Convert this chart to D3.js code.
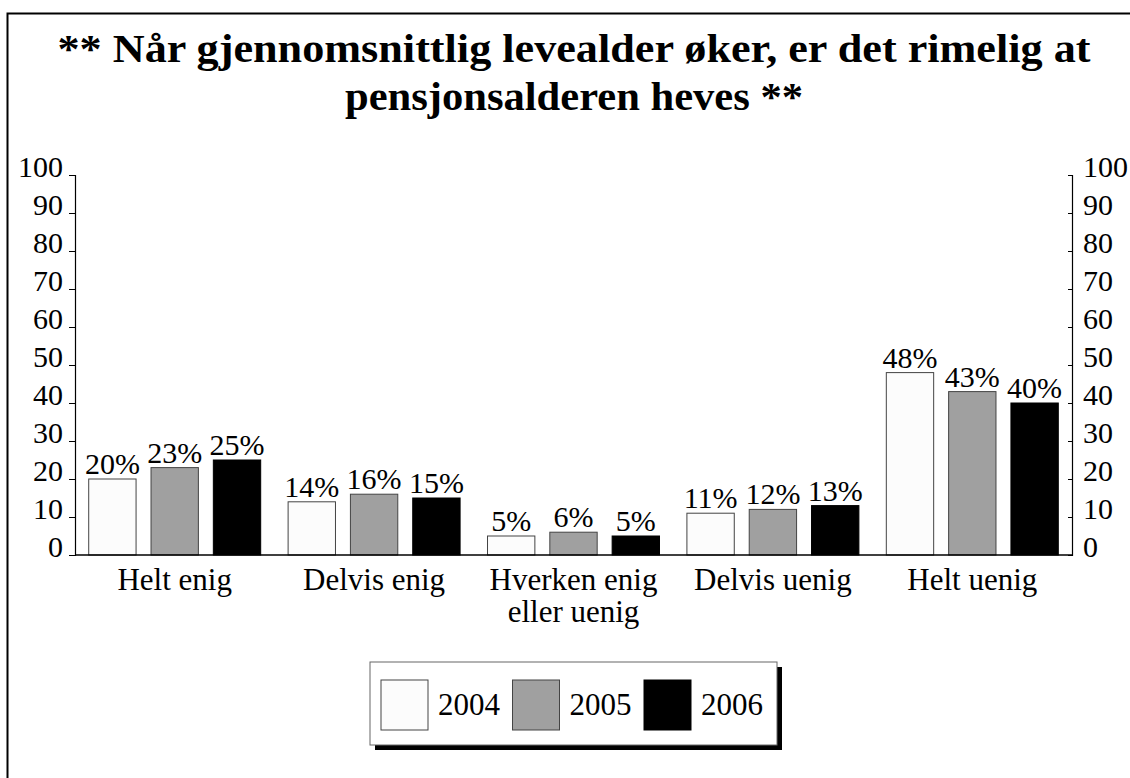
<!DOCTYPE html>
<html>
<head>
<meta charset="utf-8">
<script src="https://cdn.jsdelivr.net/npm/d3@7"></script>
<style>
  body { margin: 0; background: #fff; }
</style>
</head>
<body>
<script>
const titleLines = ["** Når gjennomsnittlig levealder øker, er det rimelig at", "pensjonsalderen heves **"];
const categories = ["Helt enig", "Delvis enig", "Hverken enig\neller uenig", "Delvis uenig", "Helt uenig"];
const years = ["2004", "2005", "2006"];
const values2004 = [20, 14, 5, 11, 48];
const values2005 = [23, 16, 6, 12, 43];
const values2006 = [25, 15, 5, 13, 40];
const yTicks = [0, 10, 20, 30, 40, 50, 60, 70, 80, 90, 100];

const W = 1130, H = 778;
const FONT = "'Liberation Serif', 'Times New Roman', serif";
const fills = {"2004": "#fcfcfc", "2005": "#a0a0a0", "2006": "#000"};
const strokes = {"2004": "#444", "2005": "#444", "2006": "#000"};

let data = categories.map((c, i) => ({cat: c, vals: [values2004[i], values2005[i], values2006[i]]}));

let svg = d3.select("body").append("svg")
    .attr("width", W)
    .attr("height", H)
    .style("font-family", FONT);

// frame (only top and left visible)
svg.append("rect")
    .attr("x", 7.5).attr("y", 13.5)
    .attr("width", 1300).attr("height", 900)
    .attr("fill", "none").attr("stroke", "#000").attr("stroke-width", 2);

// title is stretched a bit wider, as in the original
const titleWidths = [1033, 458];
svg.append("g").selectAll("text")
    .data(titleLines)
    .enter()
    .append("text")
    .attr("x", 574)
    .attr("y", (d, i) => 62 + i * 48)
    .attr("text-anchor", "middle")
    .attr("font-weight", "bold")
    .attr("font-size", 40)
    .attr("textLength", (d, i) => titleWidths[i])
    .attr("lengthAdjust", "spacingAndGlyphs")
    .style("font-family", FONT)
    .text(d => d);

let left = 75, right = 1072;
let y = d3.scaleLinear().domain([0, 100]).range([555, 175]);

let x0 = d3.scaleBand().domain(categories).range([left, right]).padding(0);
let x1 = d3.scaleBand().domain(years).range([0, x0.bandwidth()])
    .paddingInner(0.24).paddingOuter(0.22);

// bars
let groups = svg.append("g").selectAll("g")
    .data(data)
    .enter()
    .append("g")
    .attr("transform", d => "translate(" + x0(d.cat) + ",0)");

groups.selectAll("rect")
    .data(d => d.vals.map((v, j) => ({year: years[j], v: v})))
    .enter()
    .append("rect")
    .attr("x", d => x1(d.year))
    .attr("y", d => y(d.v))
    .attr("width", x1.bandwidth())
    .attr("height", d => y(0) - y(d.v))
    .attr("fill", d => fills[d.year])
    .attr("stroke", d => strokes[d.year])
    .attr("stroke-width", 1);

groups.selectAll("text")
    .data(d => d.vals.map((v, j) => ({year: years[j], v: v})))
    .enter()
    .append("text")
    .attr("x", d => x1(d.year) + x1.bandwidth() / 2)
    .attr("y", d => y(d.v) - 5)
    .attr("text-anchor", "middle")
    .attr("font-size", 30)
    .style("font-family", FONT)
    .text(d => d.v + "%");

// axes
let yLeft = svg.append("g")
    .attr("transform", "translate(" + left + ",0)")
    .call(d3.axisLeft(y).tickValues(yTicks).tickSize(6).tickPadding(6));
let yRight = svg.append("g")
    .attr("transform", "translate(" + right + ",0)")
    .call(d3.axisRight(y).tickValues(yTicks).tickSize(-4).tickPadding(11));

[yLeft, yRight].forEach(a => {
    a.select(".domain").attr("stroke", "#000").attr("stroke-width", 1.2);
    a.selectAll(".tick line").attr("stroke", "#000");
    a.selectAll(".tick text")
        .style("font-family", FONT)
        .attr("font-size", 30)
        .attr("dy", "0.05em")
        .attr("fill", "#000");
});

svg.append("line")
    .attr("x1", left).attr("x2", right)
    .attr("y1", y(0)).attr("y2", y(0))
    .attr("stroke", "#000").attr("stroke-width", 1.5);

// category labels
let catText = svg.append("g").selectAll("text")
    .data(categories)
    .enter()
    .append("text")
    .attr("x", d => x0(d) + x0.bandwidth() / 2)
    .attr("y", 590)
    .attr("text-anchor", "middle")
    .attr("font-size", 31)
    .style("font-family", FONT);

catText.selectAll("tspan")
    .data(d => d.split("\n"))
    .enter()
    .append("tspan")
    .attr("x", function() { return d3.select(this.parentNode).attr("x"); })
    .attr("dy", (d, i) => i === 0 ? 0 : 32)
    .text(d => d);

// legend
let lg = svg.append("g").attr("transform", "translate(370,662)");
lg.append("rect")
    .attr("x", 5).attr("y", 5)
    .attr("width", 407).attr("height", 83)
    .attr("fill", "#000");
lg.append("rect")
    .attr("x", 0).attr("y", 0)
    .attr("width", 407).attr("height", 83)
    .attr("fill", "#fff").attr("stroke", "#666").attr("stroke-width", 1);

let items = lg.selectAll("g.item")
    .data(years)
    .enter()
    .append("g")
    .attr("class", "item")
    .attr("transform", (d, i) => "translate(" + (11 + i * 131.5) + ",18)");

items.append("rect")
    .attr("width", 47).attr("height", 50)
    .attr("fill", d => fills[d])
    .attr("stroke", d => strokes[d]);

items.append("text")
    .attr("x", 57).attr("y", 35)
    .attr("font-size", 31)
    .style("font-family", FONT)
    .text(d => d);
</script>
</body>
</html>
